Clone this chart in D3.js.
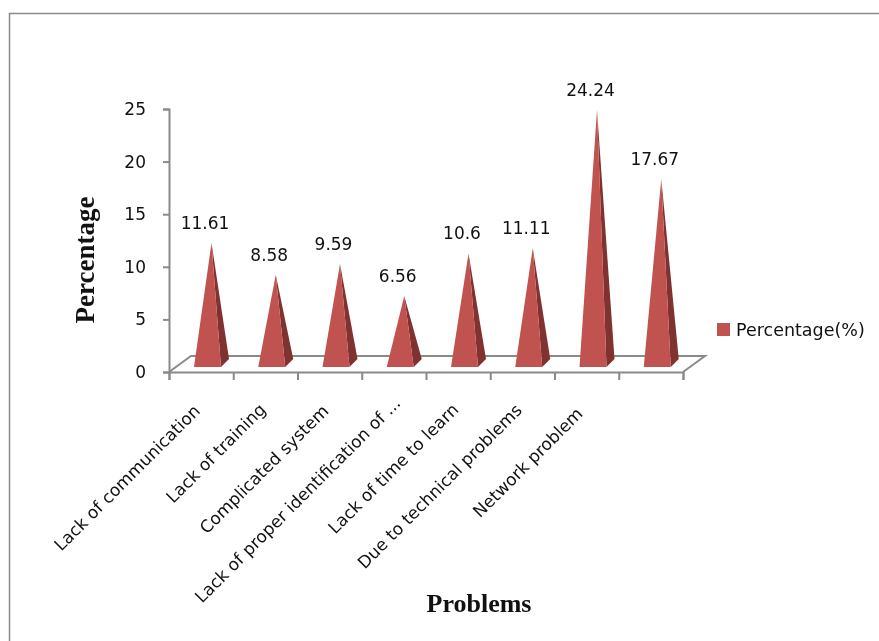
<!DOCTYPE html>
<html>
<head>
<meta charset="utf-8">
<script src="https://d3js.org/d3.v7.min.js"></script>
<style>
    html, body { margin: 0; background: #fff; }
    svg { display: block; filter: blur(0.4px); }
    text { font-family: "DejaVu Sans", sans-serif; fill: #111; }
    .axis-title { font-family: "Liberation Serif", serif; font-weight: bold; font-size: 26px; }
</style>
</head>
<body>
<svg></svg>
<script>
let categories = ["Lack of communication", "Lack of training", "Complicated system",
    "Lack of proper identification of ...", "Lack of time to learn", "Due to technical problems",
    "Network problem", ""];
let percentages = [11.61, 8.58, 9.59, 6.56, 10.6, 11.11, 24.24, 17.67];
let yTicks = [0, 5, 10, 15, 20, 25];
let seriesName = "Percentage(%)";

let svgWidth = 879;
let svgHeight = 641;
let axisColor = "#8a8a8a";

let svg = d3.select("svg")
    .attr("width", svgWidth)
    .attr("height", svgHeight);

// outer chart frame, runs off the right and bottom of the picture
svg.append("path")
    .attr("d", "M9.5," + svgHeight + "V13.5H" + svgWidth)
    .attr("fill", "none")
    .attr("stroke", axisColor)
    .attr("stroke-width", 1.5);

let scaledX = d3.scaleBand()
    .domain(d3.range(categories.length))
    .range([169, 683]);

let scaledY = d3.scaleLinear()
    .domain([0, 25])
    .range([372, 109]);

// floor of the 3d plot
let depthX = 22;
let depthY = 16;
let floorY = scaledY(0);
svg.append("path")
    .attr("d", "M" + scaledX.range()[0] + "," + floorY
        + "l" + depthX + "," + (-depthY)
        + "H" + (scaledX.range()[1] + depthX)
        + "l" + (-depthX) + "," + depthY)
    .attr("fill", "none")
    .attr("stroke", axisColor)
    .attr("stroke-width", 2);

// y axis
let axsLeft = d3.axisLeft(scaledY).tickValues(yTicks).tickSize(6).tickPadding(17);
let gLeft = svg.append("g").call(axsLeft)
    .attr("transform", "translate(169,0)");
gLeft.selectAll("text").style("font-size", "17px").attr("fill", "#111");

// x axis, ticks sit on the band edges so it gets its own scale
let edgeX = d3.scaleLinear().domain([0, categories.length]).range(scaledX.range());
let axsBottom = d3.axisBottom(edgeX)
    .tickValues(d3.range(categories.length + 1))
    .tickFormat("")
    .tickSize(8);
let gBottom = svg.append("g").call(axsBottom)
    .attr("transform", "translate(0," + floorY + ")");

svg.selectAll(".domain, .tick line")
    .attr("stroke", axisColor)
    .attr("stroke-width", 2);

// pyramids
let pyramids = svg.append("g");
let baseLeft = 25;
let baseRight = 52;
let sideX = 8;
let sideY = 8;
let baseFront = -5;
let apexRise = -7;
let apexX = 42.5;

percentages.forEach(function(v, i) {
    let x0 = scaledX(i);
    let apex = [x0 + apexX, scaledY(v) + apexRise];
    let frontY = floorY + baseFront;
    pyramids.append("polygon")
        .attr("points", [[x0 + baseRight, frontY], [x0 + baseRight + sideX, frontY - sideY], apex].join(" "))
        .attr("fill", "#7f3230");
    pyramids.append("polygon")
        .attr("points", [[x0 + baseLeft, frontY], [x0 + baseRight, frontY], apex].join(" "))
        .attr("fill", "#c0534f");
});

// value labels
svg.append("g").selectAll("text")
    .data(percentages).enter().append("text")
    .attr("x", (d, i) => scaledX(i) + 36)
    .attr("y", d => scaledY(d) + apexRise - 20)
    .attr("dy", "0.35em")
    .attr("text-anchor", "middle")
    .style("font-size", "17px")
    .text(d => d);

// small shifts along the text direction, the long truncated label sits further up in the original
let labelNudge = [0, 2, 0, 11, 2, 1, -4];

svg.append("g").selectAll("text")
    .data(categories.filter(c => c !== "")).enter().append("text")
    .attr("transform", (d, i) => "translate(" + edgeX(i + 0.5) + ",412) rotate(-45)")
    .attr("dx", (d, i) => labelNudge[i])
    .attr("text-anchor", "end")
    .style("font-size", "17px")
    .text(d => d);

// axis titles
svg.append("text")
    .attr("class", "axis-title")
    .attr("transform", "translate(94,260) rotate(-90)")
    .attr("text-anchor", "middle")
    .style("font-size", "27px")
    .text("Percentage");

svg.append("text")
    .attr("class", "axis-title")
    .attr("x", 479)
    .attr("y", 612)
    .attr("text-anchor", "middle")
    .text("Problems");

// legend
svg.append("rect")
    .attr("x", 717)
    .attr("y", 323)
    .attr("width", 13)
    .attr("height", 13)
    .attr("fill", "#c0534f");

svg.append("text")
    .attr("x", 736)
    .attr("y", 330)
    .attr("dy", "0.35em")
    .style("font-size", "17.5px")
    .text(seriesName);
</script>
</body>
</html>
